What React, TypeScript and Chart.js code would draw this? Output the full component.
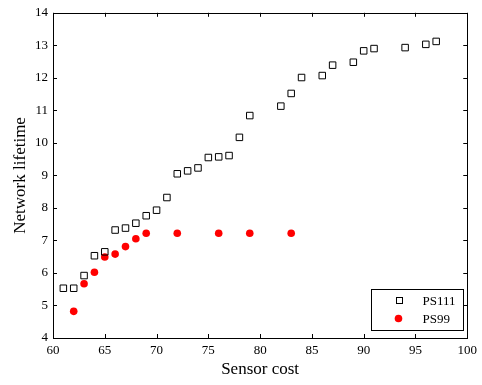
import React, { useEffect, useRef } from "react";
import { Chart, registerables } from "chart.js";

Chart.register(...registerables);

// Sensor cost (x) and network lifetime (y) for each scheme
const ps111Cost = [61, 62, 63, 64, 65, 66, 67, 68, 69, 70, 71, 72, 73, 74, 75, 76, 77, 78, 79, 82, 83, 84, 86, 87, 89, 90, 91, 94, 96, 97];
const ps111Life = [5.53, 5.53, 5.92, 6.53, 6.65, 7.32, 7.38, 7.53, 7.76, 7.93, 8.32, 9.05, 9.14, 9.23, 9.55, 9.57, 9.61, 10.17, 10.84, 11.13, 11.52, 12.01, 12.07, 12.39, 12.48, 12.83, 12.9, 12.93, 13.03, 13.12];

const ps99Cost = [62, 63, 64, 65, 66, 67, 68, 69, 72, 76, 79, 83];
const ps99Life = [4.82, 5.67, 6.02, 6.49, 6.58, 6.81, 7.05, 7.22, 7.22, 7.22, 7.22, 7.22];

const seriesLabels = ["PS111", "PS99"];

const FONT = '"Liberation Serif", "Times New Roman", serif';

// Box around the plot with inward tick marks on all four sides
const framePlugin = {
  id: "frame",
  afterDatasetsDraw(chart: any) {
    const { ctx, chartArea } = chart;
    const { left, right, top, bottom } = chartArea;
    const xs = chart.scales.x;
    const ys = chart.scales.y;
    const len = 4;
    ctx.save();
    ctx.strokeStyle = "#000";
    ctx.lineWidth = 1;
    ctx.beginPath();
    xs.ticks.forEach((t: any) => {
      const px = Math.round(xs.getPixelForValue(t.value)) + 0.5;
      ctx.moveTo(px, bottom);
      ctx.lineTo(px, bottom - len);
      ctx.moveTo(px, top);
      ctx.lineTo(px, top + len);
    });
    ys.ticks.forEach((t: any) => {
      const py = Math.round(ys.getPixelForValue(t.value)) + 0.5;
      ctx.moveTo(left, py);
      ctx.lineTo(left + len, py);
      ctx.moveTo(right, py);
      ctx.lineTo(right - len, py);
    });
    ctx.stroke();
    ctx.strokeRect(Math.round(left) + 0.5, Math.round(top) + 0.5, Math.round(right - left), Math.round(bottom - top));
    ctx.restore();
  },
};

// Legend box in the lower-right corner of the plot
const legendBoxPlugin = {
  id: "legendBox",
  afterDraw(chart: any) {
    const { ctx, chartArea } = chart;
    const w = 92;
    const h = 41;
    const x0 = Math.round(chartArea.right - 4 - w) + 0.5;
    const y0 = Math.round(chartArea.bottom - 8 - h) + 0.5;
    ctx.save();
    ctx.fillStyle = "#fff";
    ctx.fillRect(x0, y0, w, h);
    ctx.strokeStyle = "#000";
    ctx.lineWidth = 1;
    ctx.strokeRect(x0, y0, w, h);
    chart.data.datasets.forEach((ds: any, i: number) => {
      const cy = y0 + 11 + i * 18;
      const mx = x0 + 27;
      ctx.lineWidth = 1;
      if (ds.pointStyle === "rect") {
        ctx.strokeStyle = ds.borderColor;
        ctx.strokeRect(Math.round(mx - 3) + 0.5, Math.round(cy - 3) - 0.5, 6, 6);
      } else {
        ctx.fillStyle = ds.backgroundColor;
        ctx.beginPath();
        ctx.arc(mx, cy, ds.pointRadius, 0, Math.PI * 2);
        ctx.fill();
      }
      ctx.fillStyle = "#000";
      ctx.font = `13px ${FONT}`;
      ctx.textBaseline = "middle";
      ctx.textAlign = "left";
      ctx.fillText(ds.label, x0 + 51, cy + 1);
    });
    ctx.restore();
  },
};

export default function App() {
  const canvasRef = useRef<HTMLCanvasElement | null>(null);

  useEffect(() => {
    document.body.style.margin = "0";
    const canvas = canvasRef.current;
    if (!canvas) return;
    const chart = new Chart(canvas, {
      type: "scatter",
      data: {
        datasets: [
          {
            label: seriesLabels[0],
            data: ps111Cost.map((c, i) => ({ x: c, y: ps111Life[i] })),
            pointStyle: "rect",
            pointRadius: 4.6,
            borderColor: "#000",
            backgroundColor: "rgba(255,255,255,0)",
            borderWidth: 1,
          },
          {
            label: seriesLabels[1],
            data: ps99Cost.map((c, i) => ({ x: c, y: ps99Life[i] })),
            pointStyle: "circle",
            pointRadius: 3.8,
            borderColor: "#ff0000",
            backgroundColor: "#ff0000",
            borderWidth: 0,
          },
        ],
      },
      options: {
        animation: false,
        responsive: true,
        maintainAspectRatio: false,
        layout: { padding: { top: 10, right: 12, left: 0, bottom: 0 } },
        plugins: {
          legend: { display: false },
          tooltip: { enabled: false },
        },
        scales: {
          x: {
            type: "linear",
            min: 60,
            max: 100,
            grid: { display: false, drawTicks: false },
            border: { display: false },
            ticks: {
              stepSize: 5,
              padding: 5,
              color: "#000",
              font: { family: FONT, size: 13 },
              maxRotation: 0,
            },
            title: {
              display: true,
              text: "Sensor cost",
              color: "#000",
              font: { family: FONT, size: 17 },
              padding: { top: 0, bottom: 5 },
            },
            afterFit(scale: any) {
              scale.height = 47;
            },
          },
          y: {
            type: "linear",
            min: 4,
            max: 14,
            grid: { display: false, drawTicks: false },
            border: { display: false },
            ticks: {
              stepSize: 1,
              padding: 5,
              color: "#000",
              font: { family: FONT, size: 13 },
            },
            title: {
              display: true,
              text: "Network lifetime",
              color: "#000",
              font: { family: FONT, size: 17 },
              padding: { top: 10, bottom: 0 },
            },
            afterFit(scale: any) {
              scale.width = 53;
            },
          },
        },
      },
      plugins: [framePlugin, legendBoxPlugin],
    });
    return () => chart.destroy();
  }, []);

  return (
    <div style={{ position: "absolute", left: 0, top: 0, width: 482, height: 385, background: "#fff" }}>
      <canvas ref={canvasRef} />
    </div>
  );
}
